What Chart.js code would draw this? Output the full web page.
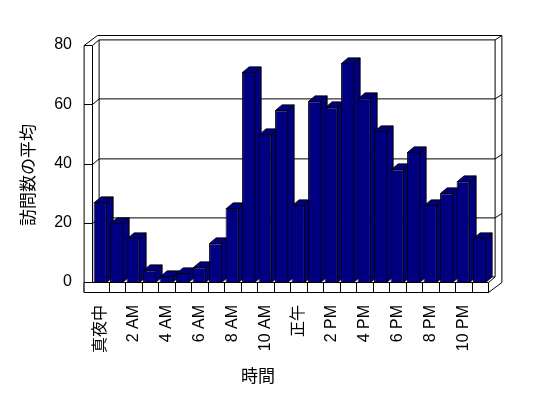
<!DOCTYPE html>
<html>
<head>
<meta charset="utf-8">
<script src="https://cdn.jsdelivr.net/npm/chart.js@4/dist/chart.umd.min.js"></script>
<style>
  html, body { margin: 0; padding: 0; background: #ffffff; }
  #wrap { width: 548px; height: 398px; position: relative; }
</style>
</head>
<body>
<div id="wrap"><canvas id="c" width="548" height="398"></canvas></div>
<script>
// ---- data ----
const categories = ['真夜中','1 AM','2 AM','3 AM','4 AM','5 AM','6 AM','7 AM','8 AM','9 AM','10 AM','11 AM',
                    '正午','1 PM','2 PM','3 PM','4 PM','5 PM','6 PM','7 PM','8 PM','9 PM','10 PM','11 PM'];
const tickLabels = ['真夜中','','2 AM','','4 AM','','6 AM','','8 AM','','10 AM','',
                    '正午','','2 PM','','4 PM','','6 PM','','8 PM','','10 PM',''];
const visits = [27, 20, 15, 4, 2, 3, 5, 13, 25, 71, 50, 58, 26, 61, 59, 74, 62, 51, 38, 44, 26, 30, 34, 15];
const yTicks = [0, 20, 40, 60, 80];
const xTitle = '時間';
const yTitle = '訪問数の平均';

// ---- 3D look (styles) ----
const DX = 6.6, DY = 5.6;    // bar depth / inner back wall offset
const OX = 13.4, OY = 10;    // outer wall offset
const LW = 8.4;              // left wall thickness
const FL = 10;               // floor thickness
const NAVY = '#000080';

function poly(ctx, pts, fill) {
  ctx.beginPath();
  ctx.moveTo(pts[0][0], pts[0][1]);
  for (let i = 1; i < pts.length; i++) ctx.lineTo(pts[i][0], pts[i][1]);
  if (fill) { ctx.closePath(); ctx.fillStyle = fill; ctx.fill(); }
  ctx.stroke();
}
const s = v => Math.round(v) + 0.5;

const frame3d = {
  id: 'frame3d',
  beforeDatasetsDraw(chart) {
    const ctx = chart.ctx;
    const a = chart.chartArea;
    const ys = chart.scales.y, xs = chart.scales.x;
    const L = s(a.left), R = s(a.right), B = s(ys.getPixelForValue(0)), T = s(ys.getPixelForValue(80));
    ctx.save();
    ctx.strokeStyle = '#000';
    ctx.lineWidth = 1;
    // back wall inner plane
    poly(ctx, [[L + DX, T - DY], [R + DX, T - DY], [R + DX, B - DY], [L + DX, B - DY]], '#fff');
    // outer top / right
    poly(ctx, [[L - LW, T], [L - LW + OX, T - OY], [R + OX, T - OY], [R + OX, B + FL - OY]]);
    poly(ctx, [[R + DX, T - DY], [R + OX, T - OY]]);
    // left wall
    poly(ctx, [[L - LW, T], [L - LW, B + FL]]);
    poly(ctx, [[L - LW, T], [L, T], [L, B]]);
    poly(ctx, [[L, T], [L + DX, T - DY]]);
    // gridlines
    yTicks.forEach(v => {
      if (v === 0 || v === 80) return;
      const yf = s(ys.getPixelForValue(v));
      poly(ctx, [[L - LW, yf], [L, yf], [L + DX, yf - DY], [R + DX, yf - DY], [R + OX, yf - OY]]);
    });
    // floor
    poly(ctx, [[L - LW, B], [R, B], [R, B + FL], [L - LW, B + FL]], '#fff');
    poly(ctx, [[R, B], [R + DX, B - DY]]);
    poly(ctx, [[R, B + FL], [R + OX, B + FL - OY]]);
    const cw = (a.right - a.left) / categories.length;
    for (let k = 1; k < categories.length; k++) {
      const x = s(xs.getPixelForValue(k) - cw / 2);
      poly(ctx, [[x, B], [x, B + FL]]);
    }
    // bar side and top faces
    const meta = chart.getDatasetMeta(0);
    meta.data.forEach(bar => {
      const p = bar.getProps(['x', 'y', 'base', 'width'], true);
      const l = s(p.x - p.width / 2), r = s(p.x + p.width / 2) - 1, t = s(p.y), b = s(p.base);
      poly(ctx, [[r, t], [r + DX, t - DY], [r + DX, b - DY], [r, b]], NAVY);
      poly(ctx, [[l, t], [l + DX, t - DY], [r + DX, t - DY], [r, t]], NAVY);
    });
    ctx.restore();
  },
  afterDraw(chart) {
    const ctx = chart.ctx;
    ctx.save();
    ctx.fillStyle = '#000';
    ctx.font = '17px "Noto Sans CJK JP", "Liberation Sans", sans-serif';
    ctx.textAlign = 'center';
    ctx.textBaseline = 'middle';
    ctx.fillText(xTitle, 258, 376);
    ctx.translate(28, 175);
    ctx.rotate(-Math.PI / 2);
    ctx.fillText(yTitle, 0, 0);
    ctx.restore();
  }
};

new Chart(document.getElementById('c'), {
  type: 'bar',
  data: {
    labels: categories,
    datasets: [{
      data: visits,
      backgroundColor: NAVY,
      borderColor: '#000',
      borderWidth: 1,
      barPercentage: 0.81,
      categoryPercentage: 1.0
    }]
  },
  plugins: [frame3d],
  options: {
    responsive: false,
    animation: false,
    events: [],
    layout: { padding: { top: 45, right: 60, left: 0, bottom: 0 } },
    plugins: { legend: { display: false }, tooltip: { enabled: false }, title: { display: false } },
    scales: {
      x: {
        grid: { display: false, drawTicks: false },
        border: { display: false },
        ticks: {
          autoSkip: false, minRotation: 90, maxRotation: 90, padding: 23,
          color: '#000',
          font: { family: '"Liberation Sans", "Noto Sans CJK JP", sans-serif', size: 16 },
          callback: (v, i) => tickLabels[i]
        },
        afterFit: sc => { sc.height = 116; }
      },
      y: {
        min: 0, max: 80,
        grid: { display: false, drawTicks: false },
        border: { display: false },
        ticks: {
          stepSize: 20, padding: 20, color: '#000',
          font: { family: '"Liberation Sans", sans-serif', size: 16 }
        },
        afterFit: sc => { sc.width = 92; }
      }
    }
  }
});
</script>
</body>
</html>
